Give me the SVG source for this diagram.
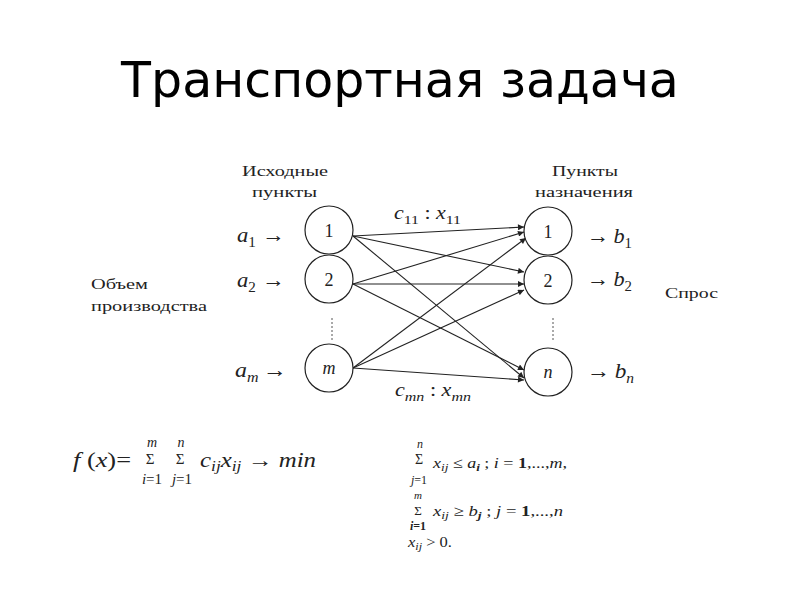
<svg xmlns="http://www.w3.org/2000/svg" width="800" height="600" viewBox="0 0 800 600">
<style>
.s{fill:#222}
.i{font-style:italic}
.b{font-weight:bold}
.n{fill:#fff;stroke:#222;stroke-width:1.2}
.e{stroke:#222;stroke-width:1.1;fill:none;marker-end:url(#ah)}
.d{stroke:#555;stroke-width:1;stroke-dasharray:2 2}
</style>
<defs>
<marker id="ah" viewBox="0 0 10 10" refX="10" refY="5" markerWidth="8" markerHeight="6" orient="auto" markerUnits="userSpaceOnUse">
<path d="M0,0 L10,5 L0,10 z" fill="#222"/>
</marker>
</defs>
<rect width="800" height="600" fill="#fff"/>
<text x="400" y="97" text-anchor="middle" font-family="DejaVu Sans, sans-serif" font-size="49" fill="#000">Транспортная задача</text>

<g font-family="'Liberation Serif', 'Times New Roman', Tinos, 'Noto Serif', 'DejaVu Serif', serif">
<text class="s" x="242" y="176" font-size="15" textLength="86" lengthAdjust="spacingAndGlyphs">Исходные</text>
<text class="s" x="252" y="197" font-size="15" textLength="65" lengthAdjust="spacingAndGlyphs">пункты</text>
<text class="s" x="552" y="176" font-size="15" textLength="66" lengthAdjust="spacingAndGlyphs">Пункты</text>
<text class="s" x="535" y="197" font-size="15" textLength="98" lengthAdjust="spacingAndGlyphs">назначения</text>
<text class="s" x="91" y="289" font-size="15" textLength="57" lengthAdjust="spacingAndGlyphs">Объем</text>
<text class="s" x="91" y="311" font-size="15" textLength="116" lengthAdjust="spacingAndGlyphs">производства</text>
<text class="s" x="665" y="298" font-size="15" textLength="53" lengthAdjust="spacingAndGlyphs">Спрос</text>

<g id="connectors">
<line class="e" x1="353" y1="236" x2="524" y2="227"/>
<line class="e" x1="353" y1="236" x2="524" y2="272"/>
<line class="e" x1="353" y1="236" x2="524" y2="378"/>
<line class="e" x1="353" y1="284" x2="524" y2="232"/>
<line class="e" x1="353" y1="284" x2="524" y2="284" stroke-width="2"/>
<line class="e" x1="353" y1="284" x2="524" y2="370"/>
<line class="e" x1="353" y1="368" x2="526" y2="238"/>
<line class="e" x1="353" y1="368" x2="524" y2="290"/>
<line class="e" x1="353" y1="368" x2="524" y2="380"/>
</g>

<g id="src1"><circle class="n" cx="329" cy="230" r="24"/><text class="s" x="329" y="237" font-size="18" text-anchor="middle">1</text></g>
<g id="src2"><circle class="n" cx="329" cy="279" r="24"/><text class="s" x="329" y="286" font-size="18" text-anchor="middle">2</text></g>
<g id="srcm"><circle class="n" cx="329" cy="368" r="24"/><text class="s i" x="329" y="374" font-size="18" text-anchor="middle">m</text></g>
<g id="dst1"><circle class="n" cx="548" cy="231" r="24"/><text class="s" x="548" y="238" font-size="18" text-anchor="middle">1</text></g>
<g id="dst2"><circle class="n" cx="548" cy="280" r="24"/><text class="s" x="548" y="287" font-size="18" text-anchor="middle">2</text></g>
<g id="dstn"><circle class="n" cx="548" cy="372" r="24"/><text class="s i" x="548" y="378" font-size="18" text-anchor="middle">n</text></g>

<line class="d" x1="332" y1="318" x2="332" y2="340"/>
<line class="d" x1="553" y1="318" x2="553" y2="340"/>

<text class="s" x="237" y="242" font-size="21" textLength="48" lengthAdjust="spacingAndGlyphs"><tspan class="i">a</tspan><tspan font-size="14" dy="5">1</tspan><tspan dx="6" dy="-5">→</tspan></text>
<text class="s" x="237" y="287" font-size="21" textLength="48" lengthAdjust="spacingAndGlyphs"><tspan class="i">a</tspan><tspan font-size="14" dy="5">2</tspan><tspan dx="6" dy="-5">→</tspan></text>
<text class="s" x="235" y="377" font-size="21" textLength="52" lengthAdjust="spacingAndGlyphs"><tspan class="i">a</tspan><tspan class="i" font-size="14" dy="5">m</tspan><tspan dx="4" dy="-5">→</tspan></text>
<text class="s" x="587" y="243" font-size="21" textLength="45" lengthAdjust="spacingAndGlyphs">→<tspan class="i" dx="4">b</tspan><tspan font-size="14" dy="5">1</tspan></text>
<text class="s" x="587" y="286" font-size="21" textLength="45" lengthAdjust="spacingAndGlyphs">→<tspan class="i" dx="4">b</tspan><tspan font-size="14" dy="5">2</tspan></text>
<text class="s" x="587" y="378" font-size="21" textLength="47" lengthAdjust="spacingAndGlyphs">→<tspan class="i" dx="4">b</tspan><tspan class="i" font-size="14" dy="5">n</tspan></text>

<text class="s" x="394" y="219" font-size="18" textLength="67" lengthAdjust="spacingAndGlyphs"><tspan class="i">c</tspan><tspan font-size="13" dy="5">11</tspan><tspan dy="-5"> : </tspan><tspan class="i">x</tspan><tspan font-size="13" dy="5">11</tspan></text>
<text class="s" x="395" y="396" font-size="18" textLength="76" lengthAdjust="spacingAndGlyphs"><tspan class="i">c</tspan><tspan class="i" font-size="13" dy="5">mn</tspan><tspan dy="-5"> : </tspan><tspan class="i">x</tspan><tspan class="i" font-size="13" dy="5">mn</tspan></text>

<g id="objective">
<text class="s" x="73" y="467" font-size="21" textLength="58" lengthAdjust="spacingAndGlyphs"><tspan class="i">f</tspan> (<tspan class="i">x</tspan>)=</text>
<text class="s i" x="152" y="447" font-size="14" text-anchor="middle">m</text>
<text class="s" x="150" y="464" font-size="15" text-anchor="middle">Σ</text>
<text class="s" x="152" y="484" font-size="15" text-anchor="middle"><tspan class="i">i</tspan>=1</text>
<text class="s i" x="181" y="447" font-size="14" text-anchor="middle">n</text>
<text class="s" x="180" y="464" font-size="15" text-anchor="middle">Σ</text>
<text class="s" x="182" y="484" font-size="15" text-anchor="middle"><tspan class="i">j</tspan>=1</text>
<text class="s" x="200" y="467" font-size="20" textLength="116" lengthAdjust="spacingAndGlyphs"><tspan class="i">c</tspan><tspan class="i" font-size="14" dy="4">ij</tspan><tspan class="i" dy="-4">x</tspan><tspan class="i" font-size="14" dy="4">ij</tspan><tspan dy="-4"> → </tspan><tspan class="i">min</tspan></text>
</g>

<g id="constraints">
<text class="s i" x="420" y="448" font-size="12" text-anchor="middle">n</text>
<text class="s" x="419" y="464" font-size="14" text-anchor="middle">Σ</text>
<text class="s" x="419" y="484" font-size="12" text-anchor="middle"><tspan class="i">j</tspan>=1</text>
<text class="s" x="433" y="468" font-size="15" textLength="134" lengthAdjust="spacingAndGlyphs"><tspan class="i">x</tspan><tspan class="i" font-size="11" dy="3">ij</tspan><tspan dy="-3"> ≤ </tspan><tspan class="i">a</tspan><tspan class="i b" font-size="11" dy="3">i</tspan><tspan dy="-3"> ; </tspan><tspan class="i">i</tspan> = <tspan class="b">1</tspan>,...,<tspan class="i">m</tspan>,</text>
<text class="s i" x="418" y="499" font-size="11" text-anchor="middle">m</text>
<text class="s" x="418" y="515" font-size="13" text-anchor="middle">Σ</text>
<text class="s b" x="418" y="530" font-size="12" text-anchor="middle"><tspan class="i">i</tspan>=1</text>
<text class="s" x="433" y="516" font-size="15" textLength="130" lengthAdjust="spacingAndGlyphs"><tspan class="i">x</tspan><tspan class="i" font-size="11" dy="3">ij</tspan><tspan dy="-3"> ≥ </tspan><tspan class="i">b</tspan><tspan class="i b" font-size="11" dy="3">j</tspan><tspan dy="-3"> ;  </tspan><tspan class="i">j</tspan> = <tspan class="b">1</tspan>,...,<tspan class="i">n</tspan></text>
<text class="s" x="408" y="547" font-size="15" textLength="44" lengthAdjust="spacingAndGlyphs"><tspan class="i">x</tspan><tspan class="i" font-size="11" dy="3">ij</tspan><tspan dy="-3"> &gt; 0.</tspan></text>
</g>
</g>
</svg>
